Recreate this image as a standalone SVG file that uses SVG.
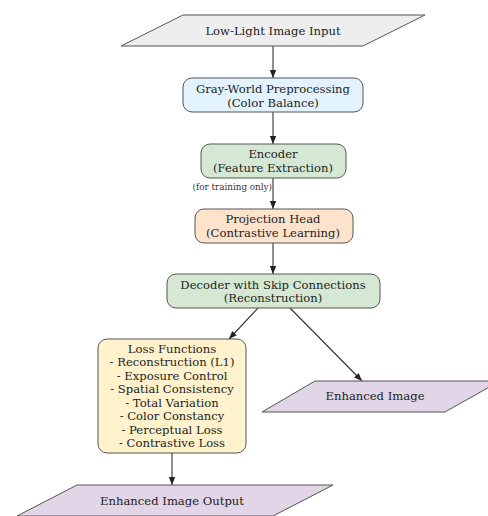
<svg xmlns="http://www.w3.org/2000/svg" width="488" height="516" viewBox="0 0 488 516">
<defs>
<marker id="ah" markerWidth="8" markerHeight="8" refX="8" refY="4" orient="auto" markerUnits="userSpaceOnUse">
<path d="M0,0.8 L8,4 L0,7.2 Z" fill="#222"/>
</marker>
<style>
.n{stroke:#555;stroke-width:1}
.t{font-family:"DejaVu Serif",serif;font-size:11.6px;fill:#222;text-anchor:middle}
.s{font-family:"DejaVu Serif",serif;font-size:8.8px;fill:#333;text-anchor:end}
.c{stroke:#333;stroke-width:1.1;fill:none;marker-end:url(#ah)}
</style>
</defs>
<rect width="488" height="516" fill="#fff"/>
<g id="connectors">
<line class="c" x1="273" y1="46" x2="273" y2="78"/>
<line class="c" x1="273" y1="112" x2="273" y2="144"/>
<line class="c" x1="273" y1="178" x2="273" y2="209"/>
<line class="c" x1="273" y1="243" x2="273" y2="274"/>
<line class="c" x1="258" y1="308" x2="229" y2="339"/>
<line class="c" x1="290" y1="308" x2="362" y2="381"/>
<line class="c" x1="172" y1="453" x2="172" y2="485"/>
<text class="s" x="272" y="190">(for training only)</text>
</g>
<g id="input">
<polygon class="n" points="183,15 425,15 363,46 121,46" fill="#eeeeee"/>
<text class="t" x="273" y="35">Low-Light Image Input</text>
</g>
<g id="grayworld">
<rect class="n" x="183" y="78" width="180" height="34" rx="9" fill="#e3f3fd"/>
<text class="t" x="273" y="93">Gray-World Preprocessing</text>
<text class="t" x="273" y="106.5">(Color Balance)</text>
</g>
<g id="encoder">
<rect class="n" x="201" y="144" width="145" height="34" rx="9" fill="#d5e8d4"/>
<text class="t" x="273" y="158">Encoder</text>
<text class="t" x="273" y="171.5">(Feature Extraction)</text>
</g>
<g id="projection">
<rect class="n" x="195" y="209" width="158" height="34" rx="9" fill="#fde3cc"/>
<text class="t" x="273" y="223">Projection Head</text>
<text class="t" x="273" y="236.5">(Contrastive Learning)</text>
</g>
<g id="decoder">
<rect class="n" x="167" y="274" width="213" height="34" rx="9" fill="#d5e8d4"/>
<text class="t" x="273" y="288.5">Decoder with Skip Connections</text>
<text class="t" x="273" y="302">(Reconstruction)</text>
</g>
<g id="loss">
<rect class="n" x="98" y="339" width="148" height="114" rx="9" fill="#fff2cc"/>
<text class="t" x="172" y="352.5">Loss Functions</text>
<text class="t" x="172" y="366">- Reconstruction (L1)</text>
<text class="t" x="172" y="379.5">- Exposure Control</text>
<text class="t" x="172" y="393">- Spatial Consistency</text>
<text class="t" x="172" y="406.5">- Total Variation</text>
<text class="t" x="172" y="420">- Color Constancy</text>
<text class="t" x="172" y="433.5">- Perceptual Loss</text>
<text class="t" x="172" y="447">- Contrastive Loss</text>
</g>
<g id="enhanced">
<polygon class="n" points="315,381 500,381 445,412 262,412" fill="#e1d5e7"/>
<text class="t" x="375" y="400">Enhanced Image</text>
</g>
<g id="output">
<polygon class="n" points="77,485 333,485 273,516 17,516" fill="#e1d5e7"/>
<text class="t" x="172" y="505">Enhanced Image Output</text>
</g>
</svg>
